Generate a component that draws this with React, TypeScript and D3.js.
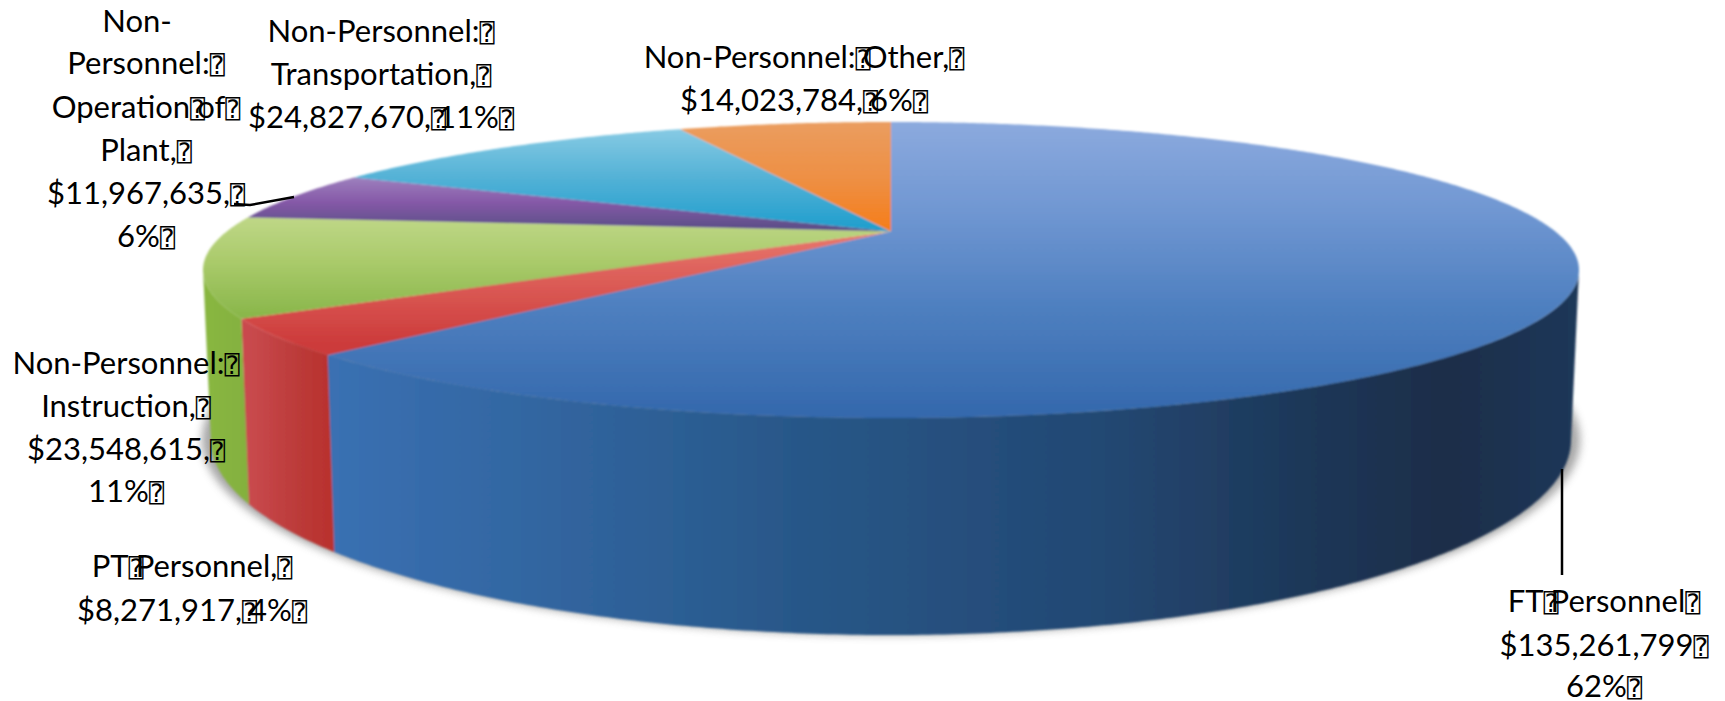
import React from "react";
import * as d3 from "d3";

// Budget categories and amounts, clockwise from twelve o'clock.
const categories = [
  "FT Personnel",
  "PT Personnel",
  "Non-Personnel: Instruction",
  "Non-Personnel: Operation of Plant",
  "Non-Personnel: Transportation",
  "Non-Personnel: Other",
];
const amounts = [135261799, 8271917, 23548615, 11967635, 24827670, 14023784];

// Data label text; the box character stands in for the glyph the source font lacked.
const BOX = "\u2370";
const labelLines = [
  [`FT${BOX}Personnel${BOX}`, `$135,261,799${BOX}`, `62%${BOX}`],
  [`PT${BOX}Personnel,${BOX}`, `$8,271,917,${BOX}4%${BOX}`],
  [`Non-Personnel:${BOX}`, `Instruction,${BOX}`, `$23,548,615,${BOX}`, `11%${BOX}`],
  [`Non-`, `Personnel:${BOX}`, `Operation${BOX}of${BOX}`, `Plant,${BOX}`, `$11,967,635,${BOX}`, `6%${BOX}`],
  [`Non-Personnel:${BOX}`, `Transportation,${BOX}`, `$24,827,670,${BOX}11%${BOX}`],
  [`Non-Personnel:${BOX}Other,${BOX}`, `$14,023,784,${BOX}6%${BOX}`],
];

// Label anchors: centre x and the baseline of each line.
const labelX = [1604, 192, 126, 146, 381, 804];
const labelBaselines = [
  [612, 656, 697],
  [577, 621],
  [374, 417, 460, 502],
  [32, 74, 118, 161, 204, 247],
  [42, 85, 128],
  [68, 111],
];
// The hyphenated first line of the plant label sits left of the others.
const lineShift: Record<string, number> = { "3-0": -9 };

// Leader lines for the two labels set away from their slices.
const leaders: [number, number][][] = [
  [[1562, 469], [1562, 575]],
  [[234, 204], [250, 205], [294, 197]],
];

// Face and wall shading, as gradient stops.
const topStops = [
  [["0%", "#8caade"], ["30%", "#7097d2"], ["62%", "#4f80c0"], ["100%", "#3368ac"]],
  [["0%", "#e8786e"], ["100%", "#cc3a3a"]],
  [["0%", "#c2d98c"], ["45%", "#abcb6c"], ["100%", "#87b548"]],
  [["0%", "#a48cc4"], ["55%", "#8659a8"], ["100%", "#5c4f88"]],
  [["0%", "#88cbe4"], ["50%", "#52b1d6"], ["100%", "#1f9ecd"]],
  [["0%", "#ea9d60"], ["55%", "#ee8f43"], ["100%", "#f57e1c"]],
];
const topSpans = [
  [122, 418],
  [231, 345],
  [210, 320],
  [170, 228],
  [128, 230],
  [122, 228],
];
const wallStops = [
  [["0%", "#3a70b2"], ["18%", "#31659f"], ["38%", "#285788"], ["62%", "#234873"], ["78%", "#1e3859"], ["90%", "#1a2d49"], ["100%", "#1e3758"]],
  [["0%", "#c94a4e"], ["60%", "#bb3a38"], ["100%", "#b9302c"]],
  [["0%", "#88b641"], ["100%", "#84b03e"]],
  [["0%", "#6b4a8a"], ["100%", "#6b4a8a"]],
  [["0%", "#2a8fb3"], ["100%", "#2a8fb3"]],
  [["0%", "#d97016"], ["100%", "#d97016"]],
];

// Perspective ellipses of the upper and lower rims.
const CX = 891;
const TOP = { cy: 270, rx: 688, ry: 148 };
const BOTTOM = { cy: 440, rx: 680, ry: 195 };
const TILT = 0.26;
const STEP = 0.5;

// Maps a clockwise angle on the disc to the perspective-corrected unit ellipse.
const warp = (deg: number) => {
  const a = (deg * Math.PI) / 180;
  const u = Math.sin(a);
  const v = Math.cos(a);
  const d = 1 + TILT * v;
  return { u: (u * Math.sqrt(1 - TILT * TILT)) / d, v: (v + TILT) / d };
};
const onRim = (deg: number, rim: typeof TOP): [number, number] => {
  const p = warp(deg);
  return [CX + p.u * rim.rx, rim.cy - p.v * rim.ry];
};

const samples = (a0: number, a1: number) => {
  const pts = d3.range(a0, a1, STEP);
  pts.push(a1);
  return pts;
};

const line = d3.line<[number, number]>();
const pieLayout = d3.pie<number>().sort(null).startAngle(0).endAngle(2 * Math.PI);
const arcs = pieLayout(amounts).map((d) => ({
  a0: (d.startAngle * 180) / Math.PI,
  a1: (d.endAngle * 180) / Math.PI,
}));

// The wall is only visible between the two silhouette angles.
const silhouette = (Math.acos(-TILT) * 180) / Math.PI;
const wallFrom = silhouette;
const wallTo = 360 - silhouette;

const apex: [number, number] = [CX, TOP.cy - TILT * TOP.ry];

const BOX_SIZE = 25;
const BOX_OVERLAP = 8;

function LabelLine({ text, x, y }: { text: string; x: number; y: number }) {
  const parts = text.split(BOX);
  const nodes: React.ReactNode[] = [];
  parts.forEach((part, i) => {
    if (part) {
      nodes.push(
        <tspan key={`t${i}`} dx={i > 0 ? -BOX_OVERLAP : undefined}>
          {part}
        </tspan>
      );
    }
    if (i < parts.length - 1) {
      nodes.push(
        <tspan key={`b${i}`} fontFamily="'DejaVu Sans Mono'" fontSize={BOX_SIZE}>
          {BOX}
        </tspan>
      );
    }
  });
  return (
    <text x={x} y={y} textAnchor="middle" fontFamily="Lato, 'Open Sans', sans-serif" fontSize={31} fill="#000">
      {nodes}
    </text>
  );
}

export default function App() {
  const shadowPath =
    line(d3.range(0, 360, 2).map((deg) => onRim(deg, { ...BOTTOM, rx: BOTTOM.rx + 9 }))) + "Z";

  return (
    <svg
      width={1725}
      height={701}
      viewBox="0 0 1725 701"
      style={{ position: "absolute", left: 0, top: 0, display: "block", background: "#fff" }}
    >
      <defs>
        <filter id="soft" x="-5%" y="-5%" width="110%" height="110%">
          <feGaussianBlur stdDeviation={0.8} />
        </filter>
        <filter id="shadow" x="-5%" y="-10%" width="110%" height="120%">
          <feGaussianBlur stdDeviation={4} />
        </filter>
        {categories.map((_, i) => (
          <linearGradient
            key={`top${i}`}
            id={`top${i}`}
            gradientUnits="userSpaceOnUse"
            x1={0}
            x2={0}
            y1={topSpans[i][0]}
            y2={topSpans[i][1]}
          >
            {topStops[i].map(([offset, color]) => (
              <stop key={offset} offset={offset} stopColor={color} />
            ))}
          </linearGradient>
        ))}
        {categories.map((_, i) => {
          const from = Math.max(arcs[i].a0, wallFrom);
          const to = Math.min(arcs[i].a1, wallTo);
          return (
            <linearGradient
              key={`wall${i}`}
              id={`wall${i}`}
              gradientUnits="userSpaceOnUse"
              x1={Math.min(onRim(from, BOTTOM)[0], onRim(to, BOTTOM)[0])}
              x2={Math.max(onRim(from, BOTTOM)[0], onRim(to, BOTTOM)[0])}
              y1={0}
              y2={0}
            >
              {wallStops[i].map(([offset, color]) => (
                <stop key={offset} offset={offset} stopColor={color} />
              ))}
            </linearGradient>
          );
        })}
      </defs>

      <path d={shadowPath} fill="#8a8a8a" opacity={0.75} filter="url(#shadow)" />

      <g filter="url(#soft)">
        {arcs.map((arc, i) => {
          const from = Math.max(arc.a0, wallFrom);
          const to = Math.min(arc.a1, wallTo);
          if (from >= to) return null;
          const upper = samples(from, to).map((deg) => onRim(deg, TOP));
          const lower = samples(from, to).map((deg) => onRim(deg, BOTTOM)).reverse();
          return <path key={categories[i]} d={line([...upper, ...lower]) + "Z"} fill={`url(#wall${i})`} />;
        })}
        {arcs.map((arc, i) => {
          const rim = samples(arc.a0, arc.a1).map((deg) => onRim(deg, TOP));
          return <path key={categories[i]} d={line([apex, ...rim]) + "Z"} fill={`url(#top${i})`} />;
        })}
      </g>

      {leaders.map((pts, i) => (
        <path key={i} d={line(pts) ?? ""} fill="none" stroke="#000" strokeWidth={2.5} />
      ))}

      {labelLines.map((lines, i) =>
        lines.map((text, j) => (
          <LabelLine
            key={`${i}-${j}`}
            text={text}
            x={labelX[i] + (lineShift[`${i}-${j}`] ?? 0)}
            y={labelBaselines[i][j]}
          />
        ))
      )}
    </svg>
  );
}
